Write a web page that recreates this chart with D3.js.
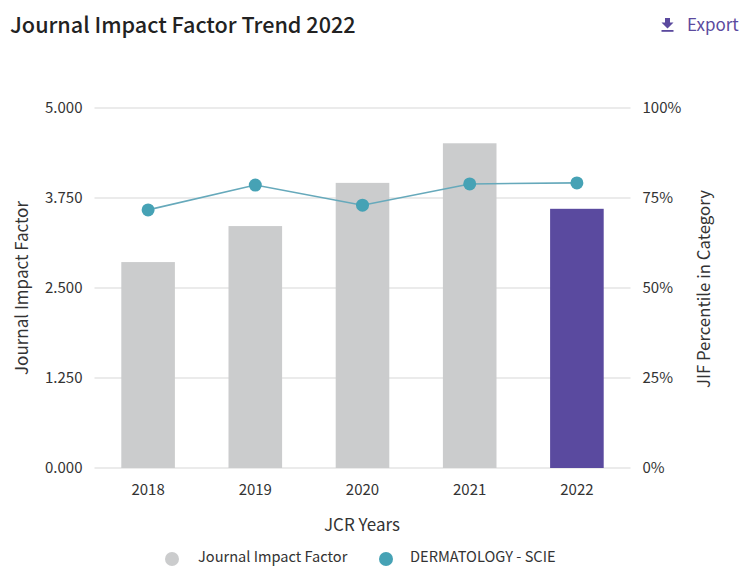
<!DOCTYPE html>
<html>
<head>
<meta charset="utf-8">
<script src="https://cdn.jsdelivr.net/npm/d3@7"></script>
<style>
  html, body { margin: 0; padding: 0; background: #fff; }
  svg { display: block; }
  text { font-family: "Noto Sans CJK SC", "Noto Sans", sans-serif; fill: #333; }
</style>
</head>
<body>
<div id="chart"></div>
<script>
// Values
var years = ["2018", "2019", "2020", "2021", "2022"];
var jifValues = [2.86, 3.36, 3.96, 4.51, 3.60];
var percentileValues = [71.7, 78.6, 73.0, 78.9, 79.2];
var leftTicks = [0, 1.25, 2.5, 3.75, 5];
var rightTicks = [0, 25, 50, 75, 100];
var legendLabels = ["Journal Impact Factor", "DERMATOLOGY - SCIE"];

var w = 741, h = 566;
var plotLeft = 94.5, plotRight = 630.5, plotTop = 108, plotBottom = 468;

var svg = d3.select("#chart").append("svg")
    .attr("width", w)
    .attr("height", h);

var xScale = d3.scaleBand()
    .domain(years)
    .range([plotLeft, plotRight])
    .paddingInner(0.5)
    .paddingOuter(0.25);

var yLeft = d3.scaleLinear().domain([0, 5]).range([plotBottom, plotTop]);
var yRight = d3.scaleLinear().domain([0, 100]).range([plotBottom, plotTop]);

// Title and export link
svg.append("text")
    .attr("x", 10).attr("y", 33)
    .attr("font-size", 21.6).attr("font-weight", 500)
    .style("fill", "#222")
    .text("Journal Impact Factor Trend 2022");

var exportColor = "#5b4a9e";
var icon = svg.append("g").attr("fill", exportColor);
icon.append("path").attr("d", "M665 18h5v4.5h3.5l-6 6-6-6h3.500z");
icon.append("rect").attr("x", 661.5).attr("y", 30).attr("width", 12).attr("height", 1.8);
svg.append("text")
    .attr("x", 687).attr("y", 30.500)
    .attr("font-size", 17)
    .style("fill", exportColor)
    .text("Export");

// Gridlines
svg.append("g").selectAll("line")
    .data(leftTicks)
    .enter().append("line")
    .attr("x1", plotLeft).attr("x2", plotRight)
    .attr("y1", function(d) { return yLeft(d); })
    .attr("y2", function(d) { return yLeft(d); })
    .attr("stroke", "#e4e4e4")
    .attr("stroke-width", 1.5);

// Bars, the last year is highlighted
svg.append("g").selectAll("rect")
    .data(jifValues)
    .enter().append("rect")
    .attr("x", function(d, i) { return xScale(years[i]); })
    .attr("y", function(d) { return yLeft(d); })
    .attr("width", xScale.bandwidth())
    .attr("height", function(d) { return yLeft(0) - yLeft(d); })
    .attr("fill", function(d, i) { return i === years.length - 1 ? "#5a4a9f" : "#cbcccd"; });

// Percentile line
var line = d3.line()
    .x(function(d, i) { return xScale(years[i]) + xScale.bandwidth() / 2; })
    .y(function(d) { return yRight(d); });

svg.append("path")
    .datum(percentileValues)
    .attr("d", line)
    .attr("fill", "none")
    .attr("stroke", "#66a9bb")
    .attr("stroke-width", 1.6);

svg.append("g").selectAll("circle")
    .data(percentileValues)
    .enter().append("circle")
    .attr("cx", function(d, i) { return xScale(years[i]) + xScale.bandwidth() / 2; })
    .attr("cy", function(d) { return yRight(d); })
    .attr("r", 6.5)
    .attr("fill", "#46a2b5");

// Axes
var axisLeft = d3.axisLeft(yLeft).tickValues(leftTicks).tickFormat(d3.format(".3f")).tickSize(0).tickPadding(12);
var axisRight = d3.axisRight(yRight).tickValues(rightTicks).tickFormat(function(d) { return d + "%"; }).tickSize(0).tickPadding(12);
var axisBottom = d3.axisBottom(xScale).tickSize(0).tickPadding(16);

var gLeft = svg.append("g").attr("transform", "translate(" + plotLeft + ",0)").call(axisLeft);
var gRight = svg.append("g").attr("transform", "translate(" + plotRight + ",0)").call(axisRight);
var gBottom = svg.append("g").attr("transform", "translate(0," + plotBottom + ")").call(axisBottom);

[gLeft, gRight, gBottom].forEach(function(g) {
    g.select(".domain").remove();
    g.selectAll("text").attr("font-size", 15).attr("font-family", null);
});
gLeft.attr("font-family", null);
gRight.attr("font-family", null);
gBottom.attr("font-family", null);

// Axis titles
svg.append("text")
    .attr("text-anchor", "middle")
    .attr("transform", "translate(28,288) rotate(-90)")
    .attr("font-size", 17)
    .text("Journal Impact Factor");

svg.append("text")
    .attr("text-anchor", "middle")
    .attr("transform", "translate(710,289) rotate(-90)")
    .attr("font-size", 16.8)
    .text("JIF Percentile in Category");

svg.append("text")
    .attr("text-anchor", "middle")
    .attr("x", 362).attr("y", 531)
    .attr("font-size", 17)
    .text("JCR Years");

// Legend, the text sits a little higher than the reference so it is not cut by the page edge
var legendColors = ["#cbcccd", "#46a2b5"];
var legendDotX = [172, 386];
var legendTextX = [198, 410];
legendLabels.forEach(function(label, i) {
    svg.append("circle")
        .attr("cx", legendDotX[i]).attr("cy", 559)
        .attr("r", 7)
        .attr("fill", legendColors[i]);
    svg.append("text")
        .attr("x", legendTextX[i]).attr("y", 561.5)
        .attr("font-size", 14.6)
        .text(label);
});
</script>
</body>
</html>
